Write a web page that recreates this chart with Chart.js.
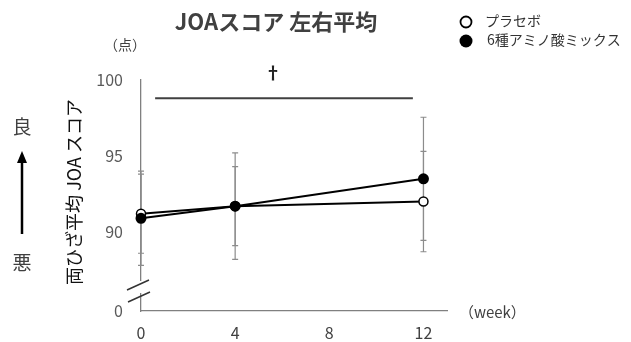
<!DOCTYPE html>
<html>
<head>
<meta charset="utf-8">
<script src="https://cdn.jsdelivr.net/npm/chart.js@4"></script>
<style>
  body { margin: 0; background: #fff; }
</style>
</head>
<body>
<canvas id="joaChart" width="631" height="342"></canvas>
<script>
// データ
const weeks = [0, 4, 12];
const placebo = [91.2, 91.7, 92.0];
const placeboSd = [2.6, 2.6, 3.3];
const amino = [90.9, 91.7, 93.5];
const aminoSd = [3.1, 3.5, 4.05];
const xTicks = [0, 4, 8, 12];
const yTicks = [84.8, 90, 95, 100]; // 84.8 は軸の切れ目で「0」と表示
const sigBar = { from: 0.6, to: 11.55, y: 98.8 };

const FONT = "'Noto Sans CJK JP', 'Noto Sans', sans-serif";

// 誤差棒・注釈・凡例を描くプラグイン
const annotations = {
  id: "annotations",
  beforeDatasetsDraw(chart) {
    const ctx = chart.ctx;
    const x = chart.scales.x, y = chart.scales.y;
    ctx.save();
    ctx.strokeStyle = "#8c8c8c";
    ctx.lineWidth = 1.2;
    [[placebo, placeboSd], [amino, aminoSd]].forEach(([vals, sds]) => {
      vals.forEach((v, i) => {
        const px = x.getPixelForValue(weeks[i]);
        const top = y.getPixelForValue(v + sds[i]);
        const bot = y.getPixelForValue(v - sds[i]);
        ctx.beginPath();
        ctx.moveTo(px, top); ctx.lineTo(px, bot);
        ctx.moveTo(px - 3, top); ctx.lineTo(px + 3, top);
        ctx.moveTo(px - 3, bot); ctx.lineTo(px + 3, bot);
        ctx.stroke();
      });
    });
    ctx.restore();
  },
  afterDraw(chart) {
    const ctx = chart.ctx;
    const x = chart.scales.x, y = chart.scales.y;
    const area = chart.chartArea;
    ctx.save();

    // 軸の切れ目
    ctx.fillStyle = "#fff";
    ctx.fillRect(area.left - 3, 281, 6, 12);
    ctx.strokeStyle = "#333";
    ctx.lineWidth = 1.5;
    ctx.beginPath();
    ctx.moveTo(127, 290); ctx.lineTo(149, 280);
    ctx.moveTo(128, 302); ctx.lineTo(150, 292);
    ctx.stroke();

    // 有意差の線と †
    const sy = y.getPixelForValue(sigBar.y);
    ctx.strokeStyle = "#404040";
    ctx.lineWidth = 2;
    ctx.beginPath();
    ctx.moveTo(x.getPixelForValue(sigBar.from), sy);
    ctx.lineTo(x.getPixelForValue(sigBar.to), sy);
    ctx.stroke();
    ctx.fillStyle = "#222";
    ctx.font = "bold 17px " + FONT;
    ctx.textAlign = "center";
    ctx.textBaseline = "middle";
    ctx.fillText("†", 273, 73);

    // タイトル
    ctx.fillStyle = "#404040";
    ctx.font = "bold 22px " + FONT;
    ctx.fillText("JOAスコア 左右平均", 276, 22);

    // 単位
    ctx.fillStyle = "#404040";
    ctx.font = "14px " + FONT;
    ctx.fillText("（点）", 125, 45);
    ctx.font = "15px " + FONT;
    ctx.textAlign = "left";
    ctx.fillText("（week）", 459, 312);

    // Y軸タイトル
    ctx.save();
    ctx.translate(74, 192);
    ctx.rotate(-Math.PI / 2);
    ctx.textAlign = "center";
    ctx.fillStyle = "#111";
    ctx.font = "18px " + FONT;
    ctx.fillText("両ひざ平均 JOA スコア", 0, 0);
    ctx.restore();

    // 良 ↑ 悪
    ctx.fillStyle = "#404040";
    ctx.font = "19px " + FONT;
    ctx.textAlign = "center";
    ctx.fillText("良", 22, 127);
    ctx.fillText("悪", 22, 263);
    ctx.strokeStyle = "#000";
    ctx.lineWidth = 2.5;
    ctx.beginPath();
    ctx.moveTo(22, 234); ctx.lineTo(22, 160);
    ctx.stroke();
    ctx.fillStyle = "#000";
    ctx.beginPath();
    ctx.moveTo(22, 151); ctx.lineTo(17, 163); ctx.lineTo(27, 163);
    ctx.closePath(); ctx.fill();

    // 凡例
    ctx.lineWidth = 1.8;
    ctx.strokeStyle = "#000";
    ctx.fillStyle = "#fff";
    ctx.beginPath(); ctx.arc(466, 22, 5.5, 0, Math.PI * 2); ctx.fill(); ctx.stroke();
    ctx.fillStyle = "#000";
    ctx.beginPath(); ctx.arc(466, 41, 6.5, 0, Math.PI * 2); ctx.fill();
    ctx.fillStyle = "#333";
    ctx.font = "14px " + FONT;
    ctx.textAlign = "left";
    ctx.fillText("プラセボ", 485, 21);
    ctx.fillText("6種アミノ酸ミックス", 487, 40);

    ctx.restore();
  }
};

new Chart(document.getElementById("joaChart"), {
  type: "line",
  data: {
    datasets: [
      {
        label: "6種アミノ酸ミックス",
        data: weeks.map((w, i) => ({ x: w, y: amino[i] })),
        borderColor: "#000",
        borderWidth: 2,
        pointBackgroundColor: "#000",
        pointBorderColor: "#000",
        pointRadius: 4.5,
        clip: false
      },
      {
        label: "プラセボ",
        data: weeks.map((w, i) => ({ x: w, y: placebo[i] })),
        borderColor: "#000",
        borderWidth: 2,
        pointBackgroundColor: "#fff",
        pointBorderColor: "#000",
        pointBorderWidth: 1.5,
        pointRadius: 4.5,
        clip: false
      }
    ]
  },
  options: {
    responsive: false,
    animation: false,
    layout: { padding: { top: 80, right: 184, left: 0, bottom: 0 } },
    plugins: {
      legend: { display: false },
      title: { display: false },
      tooltip: { enabled: false }
    },
    scales: {
      x: {
        type: "linear",
        min: 0,
        max: 13,
        afterBuildTicks: s => { s.ticks = xTicks.map(v => ({ value: v })); },
        afterFit: s => { s.height = 31; },
        grid: { drawOnChartArea: false, drawTicks: false, color: "transparent" },
        border: { display: true, color: "#808080", width: 1.3 },
        ticks: { padding: 12, color: "#404040", font: { family: FONT, size: 16 } }
      },
      y: {
        min: 84.8,
        max: 100,
        afterBuildTicks: s => { s.ticks = yTicks.map(v => ({ value: v })); },
        afterFit: s => { s.width = 141; },
        grid: { drawOnChartArea: false, drawTicks: false, color: "transparent" },
        border: { display: true, color: "#808080", width: 1.3 },
        ticks: {
          padding: 18,
          color: "#595959",
          font: { family: FONT, size: 16 },
          callback: v => (v < 86 ? "0" : v)
        }
      }
    }
  },
  plugins: [annotations]
});
</script>
</body>
</html>
